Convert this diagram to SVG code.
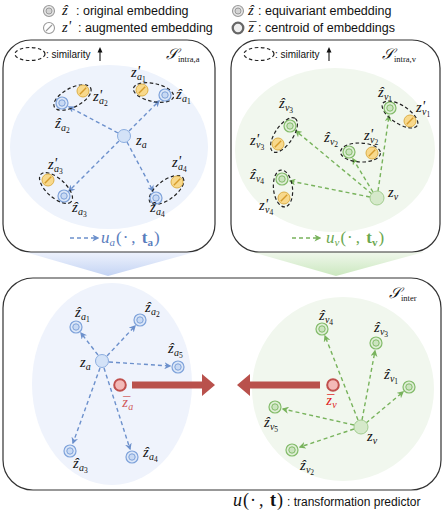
<svg xmlns="http://www.w3.org/2000/svg" xmlns:xlink="http://www.w3.org/1999/xlink" width="443" height="518" viewBox="0 0 443 518">
<style>
.box{fill:#fff;stroke:#333;stroke-width:1.2}
.m{font-family:"Liberation Serif","DejaVu Serif",serif;font-style:italic;font-size:14.5px;fill:#111}
.s{font-size:10px}
.ss{font-size:7.5px;font-style:normal}
.t{font-family:"Liberation Sans",Arial,sans-serif;font-size:12.5px;fill:#111}
.sim{font-family:"Liberation Sans",Arial,sans-serif;font-size:10px;fill:#111}
.ab{fill:none;stroke:#6c90cc;stroke-width:1.4;stroke-dasharray:4 3;marker-end:url(#mb)}
.ag{fill:none;stroke:#78b35c;stroke-width:1.4;stroke-dasharray:4 3;marker-end:url(#mg)}
.el{fill:none;stroke:#222;stroke-width:1.2;stroke-dasharray:3.5 2.5}
.scr{font-family:"DejaVu Serif","Liberation Serif",serif;font-size:15px;font-style:italic;fill:#111}
.scs{font-family:"Liberation Serif",serif;font-size:8.5px;fill:#111}
.up{font-style:normal}
.bd{font-style:normal;font-weight:bold}
</style>
<defs>
<marker id="mb" viewBox="0 0 10 10" refX="8" refY="5" markerWidth="7" markerHeight="7" markerUnits="userSpaceOnUse" orient="auto"><path d="M0,0 L10,5 L0,10 L3,5 Z" fill="#6c90cc"/></marker>
<marker id="mg" viewBox="0 0 10 10" refX="8" refY="5" markerWidth="7" markerHeight="7" markerUnits="userSpaceOnUse" orient="auto"><path d="M0,0 L10,5 L0,10 L3,5 Z" fill="#78b35c"/></marker>
<g id="hb"><circle r="6" fill="#dce7f8" stroke="#7ea2da" stroke-width="1.2"/><circle r="3.2" fill="#c8d9f3" stroke="#7ea2da" stroke-width="1"/></g>
<g id="hg"><circle r="6" fill="#dfeed6" stroke="#82bb69" stroke-width="1.2"/><circle r="3.2" fill="#cbe4bf" stroke="#82bb69" stroke-width="1"/></g>
<g id="aug"><circle r="6" fill="#f8d98c" stroke="#ddb048" stroke-width="1"/><line x1="-3.2" y1="3.2" x2="3.2" y2="-3.2" stroke="#d69c2c" stroke-width="1.4"/></g>
<g id="za"><circle r="6.5" fill="#d3e2f7" stroke="#8caee0" stroke-width="1"/></g>
<g id="zv"><circle r="7" fill="#d5e9ca" stroke="#a3cd90" stroke-width="1"/></g>
<g id="cen"><circle r="5.8" fill="#f3b9b7" stroke="#c0504d" stroke-width="2"/></g>
<linearGradient id="gb" x1="0" y1="0" x2="0" y2="1"><stop offset="0" stop-color="#eef2fc"/><stop offset="1" stop-color="#c4d4f4"/></linearGradient>
<linearGradient id="gg" x1="0" y1="0" x2="0" y2="1"><stop offset="0" stop-color="#f0f7ec"/><stop offset="1" stop-color="#cbe8bf"/></linearGradient>
</defs>

<!-- legend -->
<g id="legend">
<g transform="translate(49,11)"><circle r="5.5" fill="#e6e6e6" stroke="#9a9a9a" stroke-width="1.1"/><circle r="3" fill="#d4d4d4" stroke="#9a9a9a" stroke-width="1"/></g>
<text class="m" x="62" y="15">z<tspan dx="-4.6">ˆ</tspan></text><text class="t" x="76" y="15">: original embedding</text>
<g transform="translate(49,28)"><circle r="5.5" fill="#fff" stroke="#9a9a9a" stroke-width="1.1"/><line x1="-3" y1="3" x2="3" y2="-3" stroke="#9a9a9a" stroke-width="1.1"/></g>
<text class="m" x="62" y="32">z<tspan dx="0.3" dy="-1">'</tspan></text><text class="t" x="78" y="32">: augmented embedding</text>
<g transform="translate(238,11)"><circle r="5.5" fill="#e6e6e6" stroke="#9a9a9a" stroke-width="1.1"/><circle r="3" fill="#d4d4d4" stroke="#9a9a9a" stroke-width="1"/></g>
<text class="m" x="248" y="15">z<tspan dx="-4.6">ˆ</tspan></text><text class="t" x="258" y="15">: equivariant embedding</text>
<g transform="translate(238,28)"><circle r="5.3" fill="#eee" stroke="#666" stroke-width="2.3"/></g>
<text class="m" x="248" y="32">z<tspan dx="-5.8" dy="0">¯</tspan></text><text class="t" x="258" y="32">: centroid of embeddings</text>
</g>

<!-- boxes and backgrounds -->
<polygon points="25,252 195,252 108,276" fill="url(#gb)"/>
<polygon points="252,252 424,252 336,276" fill="url(#gg)"/>
<rect class="box" x="3" y="40" width="212" height="212" rx="28"/>
<rect class="box" x="231" y="40" width="209" height="212" rx="28"/>
<rect class="box" x="3" y="278" width="438" height="212" rx="30"/>
<ellipse cx="109" cy="147" rx="99" ry="82" fill="#eef3fc"/>
<ellipse cx="335" cy="150" rx="100" ry="82" fill="#f1f7ee"/>
<ellipse cx="112" cy="384" rx="80" ry="101" fill="#eff3fc"/>
<ellipse cx="343" cy="389" rx="91" ry="92" fill="#f1f7ee"/>

<!-- box titles and similarity legends -->
<g id="title-a">
<ellipse class="el" cx="30" cy="54" rx="15" ry="6.5"/>
<text class="sim" x="46" y="58">: similarity</text>
<path d="M100,61 L100,51" stroke="#111" stroke-width="1.1"/><path d="M97.5,52.5 L100,47 L102.5,52.5 Z" fill="#111"/>
<text class="scr" x="166" y="59">𝒮</text><text class="scs" x="178" y="62">intra,a</text>
</g>
<g id="title-v">
<ellipse class="el" cx="259" cy="54" rx="15" ry="6.5"/>
<text class="sim" x="275" y="58">: similarity</text>
<path d="M329,61 L329,51" stroke="#111" stroke-width="1.1"/><path d="M326.5,52.5 L329,47 L331.5,52.5 Z" fill="#111"/>
<text class="scr" x="382" y="59">𝒮</text><text class="scs" x="394" y="62">intra,v</text>
</g>
<g id="title-inter">
<text class="scr" x="389" y="298">𝒮</text><text class="scs" x="401" y="301">inter</text>
</g>

<!-- connectors -->
<g id="connectors">
<line class="ab" x1="129" y1="131" x2="159" y2="101"/>
<line class="ab" x1="118" y1="133" x2="69" y2="107"/>
<line class="ab" x1="119" y1="141" x2="69" y2="191"/>
<line class="ab" x1="127" y1="142" x2="153" y2="191"/>
<line class="ag" x1="378" y1="191" x2="389" y2="116"/>
<line class="ag" x1="373" y1="192" x2="353" y2="159"/>
<line class="ag" x1="372" y1="194" x2="296" y2="131"/>
<line class="ag" x1="370" y1="197" x2="290" y2="181"/>
<line class="ab" x1="98" y1="355" x2="81" y2="333"/>
<line class="ab" x1="107" y1="356" x2="135" y2="326"/>
<line class="ab" x1="109" y1="362" x2="170" y2="366"/>
<line class="ab" x1="100" y1="368" x2="73" y2="443"/>
<line class="ab" x1="104" y1="368" x2="130" y2="449"/>
<line class="ag" x1="358" y1="420" x2="325" y2="336"/>
<line class="ag" x1="362" y1="420" x2="375" y2="351"/>
<line class="ag" x1="366" y1="423" x2="403" y2="392"/>
<line class="ag" x1="354" y1="425" x2="283" y2="409"/>
<line class="ag" x1="354" y1="429" x2="300" y2="447"/>
<line class="ab" x1="70" y1="238" x2="98" y2="238"/>
<line class="ag" x1="292" y1="238" x2="320" y2="238"/>
<path d="M132,381.5 L202,381.5 L202,374 L215,385 L202,396 L202,388.5 L132,388.5 Z" fill="#b9514c"/>
<path d="M320,381.5 L250,381.5 L250,374 L237,385 L250,396 L250,388.5 L320,388.5 Z" fill="#b9514c"/>
</g>

<!-- similarity ellipses -->
<g id="similarity">
<ellipse class="el" cx="153.5" cy="92.5" rx="20.5" ry="9" transform="rotate(12 153.5 92.5)"/>
<ellipse class="el" cx="72.5" cy="97.5" rx="20.5" ry="9.5" transform="rotate(-28 72.5 97.5)"/>
<ellipse class="el" cx="56" cy="188" rx="20.5" ry="9.5" transform="rotate(42 56 188)"/>
<ellipse class="el" cx="166.5" cy="190" rx="20.5" ry="9.5" transform="rotate(-37 166.5 190)"/>
<ellipse class="el" cx="400" cy="114.5" rx="20.5" ry="9" transform="rotate(33 400 114.5)"/>
<ellipse class="el" cx="360.5" cy="152.5" rx="20" ry="9.5" transform="rotate(2 360.5 152.5)"/>
<ellipse class="el" cx="284" cy="135" rx="20" ry="9" transform="rotate(-56 284 135)"/>
<ellipse class="el" cx="283" cy="188.5" rx="18.5" ry="9.5" transform="rotate(84 283 188.5)"/>
</g>

<!-- top-left nodes -->
<g id="za-intra"><use href="#za" x="124" y="136"/><text class="m" x="136" y="145">z<tspan class="s" dy="3">a</tspan></text></g>
<g id="zha1"><use href="#hb" x="165" y="95"/><text class="m" x="176" y="99">z<tspan dx="-4.6">ˆ</tspan><tspan class="s" dy="3">a</tspan><tspan class="ss" dy="2">1</tspan></text></g>
<g id="zpa1"><use href="#aug" x="142" y="90"/><text class="m" x="131" y="77">z<tspan dx="0.3" dy="-1">'</tspan><tspan class="s" dx="-3" dy="4">a</tspan><tspan class="ss" dy="2">1</tspan></text></g>
<g id="zha2"><use href="#hb" x="62" y="103"/><text class="m" x="55" y="128">z<tspan dx="-4.6">ˆ</tspan><tspan class="s" dy="3">a</tspan><tspan class="ss" dy="2">2</tspan></text></g>
<g id="zpa2"><use href="#aug" x="83" y="91"/><text class="m" x="93" y="101">z<tspan dx="0.3" dy="-1">'</tspan><tspan class="s" dx="-3" dy="4">a</tspan><tspan class="ss" dy="2">2</tspan></text></g>
<g id="zha3"><use href="#hb" x="64" y="196"/><text class="m" x="72" y="212">z<tspan dx="-4.6">ˆ</tspan><tspan class="s" dy="3">a</tspan><tspan class="ss" dy="2">3</tspan></text></g>
<g id="zpa3"><use href="#aug" x="48" y="180"/><text class="m" x="48" y="169">z<tspan dx="0.3" dy="-1">'</tspan><tspan class="s" dx="-3" dy="4">a</tspan><tspan class="ss" dy="2">3</tspan></text></g>
<g id="zha4"><use href="#hb" x="156" y="198"/><text class="m" x="150" y="212">z<tspan dx="-4.6">ˆ</tspan><tspan class="s" dy="3">a</tspan><tspan class="ss" dy="2">4</tspan></text></g>
<g id="zpa4"><use href="#aug" x="177" y="182"/><text class="m" x="172" y="167">z<tspan dx="0.3" dy="-1">'</tspan><tspan class="s" dx="-3" dy="4">a</tspan><tspan class="ss" dy="2">4</tspan></text></g>
<g id="ua-legend"><text class="m" x="101" y="243" style="font-size:17px;fill:#5a7dbd">u<tspan class="s" dy="3" style="font-size:11px">a</tspan><tspan class="up" dx="1" dy="-3">(<tspan dx="1">·</tspan><tspan dx="3">,</tspan> </tspan><tspan class="bd" dx="2">t</tspan><tspan class="bd" dy="3" style="font-size:11px">a</tspan><tspan class="up" dx="1" dy="-3">)</tspan></text></g>

<!-- top-right nodes -->
<g id="zv-intra"><use href="#zv" x="377" y="198"/><text class="m" x="388" y="197">z<tspan class="s" dy="3">v</tspan></text></g>
<g id="zhv1"><use href="#hg" x="390" y="108"/><text class="m" x="378" y="97">z<tspan dx="-4.6">ˆ</tspan><tspan class="s" dy="3">v</tspan><tspan class="ss" dy="2">1</tspan></text></g>
<g id="zpv1"><use href="#aug" x="410" y="121"/><text class="m" x="416" y="112">z<tspan dx="0.3" dy="-1">'</tspan><tspan class="s" dx="-3" dy="4">v</tspan><tspan class="ss" dy="2">1</tspan></text></g>
<g id="zhv2"><use href="#hg" x="349" y="152"/><text class="m" x="324" y="142">z<tspan dx="-4.6">ˆ</tspan><tspan class="s" dy="3">v</tspan><tspan class="ss" dy="2">2</tspan></text></g>
<g id="zpv2"><use href="#aug" x="372" y="153"/><text class="m" x="364" y="140">z<tspan dx="0.3" dy="-1">'</tspan><tspan class="s" dx="-3" dy="4">v</tspan><tspan class="ss" dy="2">2</tspan></text></g>
<g id="zhv3"><use href="#hg" x="290" y="126"/><text class="m" x="279" y="108">z<tspan dx="-4.6">ˆ</tspan><tspan class="s" dy="3">v</tspan><tspan class="ss" dy="2">3</tspan></text></g>
<g id="zpv3"><use href="#aug" x="278" y="144"/><text class="m" x="250" y="145">z<tspan dx="0.3" dy="-1">'</tspan><tspan class="s" dx="-3" dy="4">v</tspan><tspan class="ss" dy="2">3</tspan></text></g>
<g id="zhv4"><use href="#hg" x="282" y="179"/><text class="m" x="250" y="179">z<tspan dx="-4.6">ˆ</tspan><tspan class="s" dy="3">v</tspan><tspan class="ss" dy="2">4</tspan></text></g>
<g id="zpv4"><use href="#aug" x="284" y="198"/><text class="m" x="259" y="210">z<tspan dx="0.3" dy="-1">'</tspan><tspan class="s" dx="-3" dy="4">v</tspan><tspan class="ss" dy="2">4</tspan></text></g>
<g id="uv-legend"><text class="m" x="326" y="243" style="font-size:17px;fill:#6aa84f">u<tspan class="s" dy="3" style="font-size:11px">v</tspan><tspan class="up" dx="1" dy="-3">(<tspan dx="1">·</tspan><tspan dx="3">,</tspan> </tspan><tspan class="bd" dx="2">t</tspan><tspan class="bd" dy="3" style="font-size:11px">v</tspan><tspan class="up" dx="1" dy="-3">)</tspan></text></g>

<!-- bottom-left nodes -->
<g id="za-inter"><use href="#za" x="102" y="361"/><text class="m" x="80" y="367">z<tspan class="s" dy="3">a</tspan></text></g>
<g id="bzha1"><use href="#hb" x="76" y="327"/><text class="m" x="75" y="317">z<tspan dx="-4.6">ˆ</tspan><tspan class="s" dy="3">a</tspan><tspan class="ss" dy="2">1</tspan></text></g>
<g id="bzha2"><use href="#hb" x="140" y="320"/><text class="m" x="145" y="312">z<tspan dx="-4.6">ˆ</tspan><tspan class="s" dy="3">a</tspan><tspan class="ss" dy="2">2</tspan></text></g>
<g id="bzha5"><use href="#hb" x="178" y="367"/><text class="m" x="168" y="353">z<tspan dx="-4.6">ˆ</tspan><tspan class="s" dy="3">a</tspan><tspan class="ss" dy="2">5</tspan></text></g>
<g id="bzha3"><use href="#hb" x="70" y="451"/><text class="m" x="73" y="468">z<tspan dx="-4.6">ˆ</tspan><tspan class="s" dy="3">a</tspan><tspan class="ss" dy="2">3</tspan></text></g>
<g id="bzha4"><use href="#hb" x="132" y="457"/><text class="m" x="143" y="457">z<tspan dx="-4.6">ˆ</tspan><tspan class="s" dy="3">a</tspan><tspan class="ss" dy="2">4</tspan></text></g>
<g id="cen-a"><use href="#cen" x="120" y="385"/><text class="m" x="122" y="407" style="fill:#d05a5a">z<tspan dx="-5.8">¯</tspan><tspan class="s" dx="-1" dy="3">a</tspan></text></g>

<!-- bottom-right nodes -->
<g id="zv-inter"><use href="#zv" x="361" y="427"/><text class="m" x="367" y="441">z<tspan class="s" dy="3">v</tspan></text></g>
<g id="bzhv4"><use href="#hg" x="322" y="329"/><text class="m" x="319" y="320">z<tspan dx="-4.6">ˆ</tspan><tspan class="s" dy="3">v</tspan><tspan class="ss" dy="2">4</tspan></text></g>
<g id="bzhv3"><use href="#hg" x="376" y="343"/><text class="m" x="374" y="332">z<tspan dx="-4.6">ˆ</tspan><tspan class="s" dy="3">v</tspan><tspan class="ss" dy="2">3</tspan></text></g>
<g id="bzhv1"><use href="#hg" x="409" y="387"/><text class="m" x="384" y="379">z<tspan dx="-4.6">ˆ</tspan><tspan class="s" dy="3">v</tspan><tspan class="ss" dy="2">1</tspan></text></g>
<g id="bzhv5"><use href="#hg" x="275" y="407"/><text class="m" x="264" y="427">z<tspan dx="-4.6">ˆ</tspan><tspan class="s" dy="3">v</tspan><tspan class="ss" dy="2">5</tspan></text></g>
<g id="bzhv2"><use href="#hg" x="292" y="450"/><text class="m" x="300" y="470">z<tspan dx="-4.6">ˆ</tspan><tspan class="s" dy="3">v</tspan><tspan class="ss" dy="2">2</tspan></text></g>
<g id="cen-v"><use href="#cen" x="333" y="385"/><text class="m" x="326" y="405" style="fill:#e02020">z<tspan dx="-5.8">¯</tspan><tspan class="s" dx="-1" dy="3">v</tspan></text></g>

<!-- caption -->
<g id="caption"><text class="m" x="233" y="506" style="font-size:18px">u<tspan class="up" dx="1">(<tspan dx="1">·</tspan><tspan dx="3">,</tspan> </tspan><tspan class="bd" dx="2">t</tspan><tspan class="up" dx="1">)</tspan></text><text class="t" x="287" y="506" style="font-size:12px">: transformation predictor</text></g>
</svg>
